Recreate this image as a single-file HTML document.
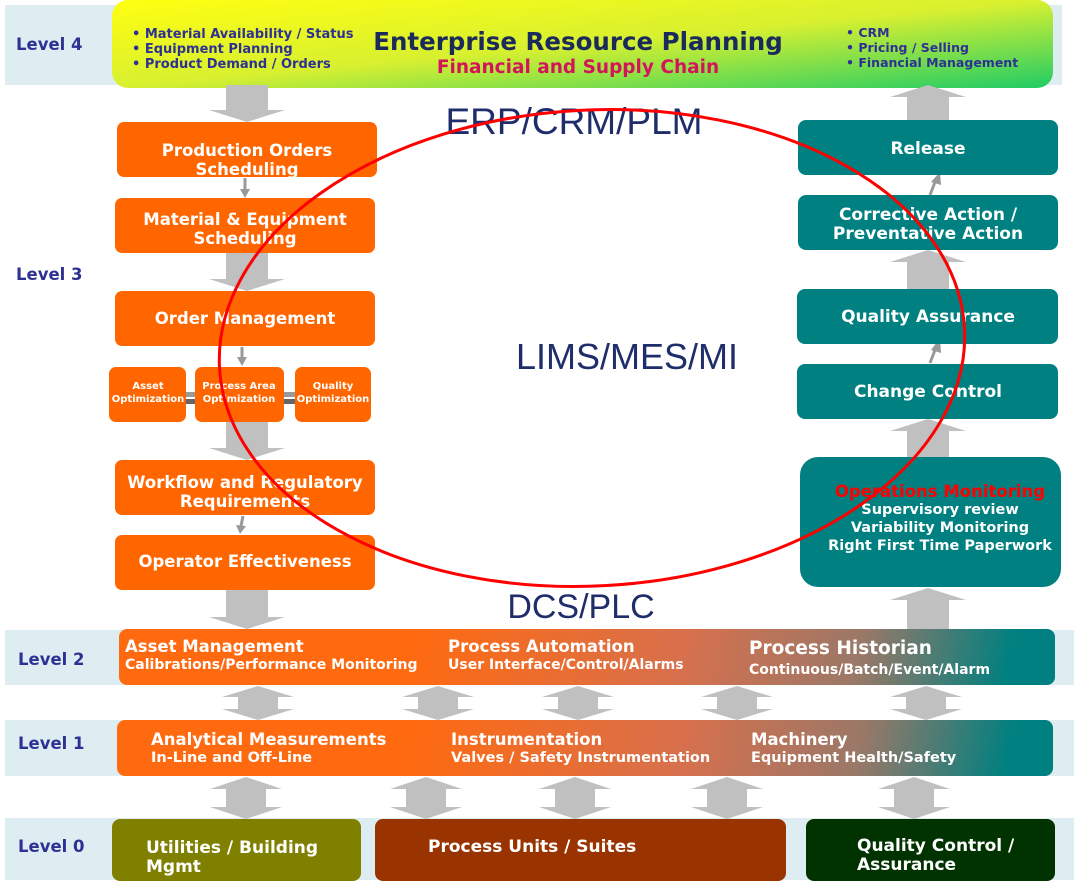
<!DOCTYPE html>
<html><head><meta charset="utf-8"><style>
html,body{margin:0;padding:0;background:#fff;width:1074px;height:887px;overflow:hidden}
svg{display:block}
.v{font-family:"DejaVu Sans","Liberation Sans",sans-serif;font-weight:bold}
</style></head><body>
<svg width="1074" height="887" viewBox="0 0 1074 887" xmlns="http://www.w3.org/2000/svg">
<defs>
<linearGradient id="erp" x1="0" y1="0" x2="1" y2="1">
<stop offset="0" stop-color="#ffff10"/><stop offset="0.5" stop-color="#d8f030"/><stop offset="1" stop-color="#20cc66"/>
</linearGradient>
<linearGradient id="bar2" gradientUnits="userSpaceOnUse" x1="420" y1="600" x2="1000" y2="710">
<stop offset="0" stop-color="#ff6a10"/><stop offset="0.45" stop-color="#d8704c"/><stop offset="0.75" stop-color="#9a7868"/><stop offset="1" stop-color="#008080"/>
</linearGradient>
<linearGradient id="bar1" gradientUnits="userSpaceOnUse" x1="420" y1="691" x2="1000" y2="801">
<stop offset="0" stop-color="#ff6a10"/><stop offset="0.45" stop-color="#d8704c"/><stop offset="0.75" stop-color="#9a7868"/><stop offset="1" stop-color="#008080"/>
</linearGradient>
</defs>
<rect x="5" y="5" width="1057" height="80" fill="#deedf2"/>
<rect x="5" y="630" width="1069" height="55" fill="#deedf2"/>
<rect x="5" y="720" width="1069" height="56" fill="#deedf2"/>
<rect x="5" y="818" width="1069" height="62" fill="#deedf2"/>
<g class="v" fill="#2e3192" font-size="16.5">
<text x="16" y="50">Level 4</text>
<text x="16" y="280">Level 3</text>
<text x="18" y="665">Level 2</text>
<text x="18" y="749">Level 1</text>
<text x="18" y="852">Level 0</text>
</g>
<rect x="112" y="0" width="941" height="88" rx="16" fill="url(#erp)"/>
<g class="v" fill="#2e3192" font-size="13">
<text x="132" y="38">• Material Availability / Status</text>
<text x="132" y="53">• Equipment Planning</text>
<text x="132" y="68">• Product Demand / Orders</text>
</g>
<g class="v" fill="#2e3192" font-size="12.5">
<text x="846" y="37">• CRM</text>
<text x="846" y="52">• Pricing / Selling</text>
<text x="846" y="67">• Financial Management</text>
</g>
<text class="v" x="578" y="50" text-anchor="middle" font-size="24.5" fill="#1a2a5a">Enterprise Resource Planning</text>
<text class="v" x="578" y="73" text-anchor="middle" font-size="18.5" fill="#d4145a">Financial and Supply Chain</text>

<g fill="#c0c0c0">
<polygon points="226,85 268,85 268,110 285,110 247,122 209,110 226,110"/>
<polygon points="226,253 268,253 268,279 285,279 247,291 209,279 226,279"/>
<polygon points="226,422 268,422 268,448 285,448 247,460 209,448 226,448"/>
<polygon points="226,590 268,590 268,617 285,617 247,629 209,617 226,617"/>
<polygon points="907,120 949,120 949,97 966,97 928,85 890,97 907,97"/>
<polygon points="907,289 949,289 949,262 966,262 928,250 890,262 907,262"/>
<polygon points="907,457 949,457 949,431 966,431 928,419 890,431 907,431"/>
<polygon points="907,629 949,629 949,600 966,600 928,588 890,600 907,600"/>
</g>
<g fill="#c0c0c0">
<polygon points="258,686 294,697 278,697 278,709 294,709 258,720 222,709 238,709 238,697 222,697"/>
<polygon points="438,686 474,697 458,697 458,709 474,709 438,720 402,709 418,709 418,697 402,697"/>
<polygon points="578,686 614,697 598,697 598,709 614,709 578,720 542,709 558,709 558,697 542,697"/>
<polygon points="737,686 773,697 757,697 757,709 773,709 737,720 701,709 717,709 717,697 701,697"/>
<polygon points="926,686 962,697 946,697 946,709 962,709 926,720 890,709 906,709 906,697 890,697"/>
<polygon points="246,777 282,789 266,789 266,807 282,807 246,819 210,807 226,807 226,789 210,789"/>
<polygon points="426,777 462,789 446,789 446,807 462,807 426,819 390,807 406,807 406,789 390,789"/>
<polygon points="575,777 611,789 595,789 595,807 611,807 575,819 539,807 555,807 555,789 539,789"/>
<polygon points="727,777 763,789 747,789 747,807 763,807 727,819 691,807 707,807 707,789 691,789"/>
<polygon points="914,777 950,789 934,789 934,807 950,807 914,819 878,807 894,807 894,789 878,789"/>
</g>
<rect x="186" y="392" width="10" height="5" fill="#999"/><rect x="186" y="399" width="10" height="5" fill="#666"/>
<rect x="284" y="392" width="12" height="5" fill="#999"/><rect x="284" y="399" width="12" height="5" fill="#666"/>

<g fill="#ff6600">
<rect x="117" y="122" width="260" height="55" rx="7"/>
<rect x="115" y="198" width="260" height="55" rx="7"/>
<rect x="115" y="291" width="260" height="55" rx="7"/>
<rect x="109" y="367" width="77" height="55" rx="7"/>
<rect x="195" y="367" width="89" height="55" rx="7"/>
<rect x="295" y="367" width="76" height="55" rx="7"/>
<rect x="115" y="460" width="260" height="55" rx="7"/>
<rect x="115" y="535" width="260" height="55" rx="7"/>
</g>
<g stroke="#999" stroke-width="3" fill="#999">
<line x1="245" y1="178" x2="245" y2="190"/><polygon points="240,189 250,189 245,198" stroke="none"/>
<line x1="242" y1="347" x2="242" y2="358"/><polygon points="237,357 247,357 242,366" stroke="none"/>
<line x1="243" y1="516" x2="241" y2="526"/><polygon points="236,525 246,526 240,534" stroke="none"/>
<line x1="930" y1="195" x2="935" y2="182"/><polygon points="931,182 941,185 940,172" stroke="none"/>
<line x1="930" y1="363" x2="935" y2="350"/><polygon points="931,350 941,353 940,338" stroke="none"/>
</g>
<g class="v" fill="#fff" font-size="16.5" text-anchor="middle">
<text x="247" y="156">Production Orders</text><text x="247" y="175">Scheduling</text>
<text x="245" y="225">Material &amp; Equipment</text><text x="245" y="244">Scheduling</text>
<text x="245" y="324">Order Management</text>
<text x="245" y="488">Workflow and Regulatory</text><text x="245" y="507">Requirements</text>
<text x="245" y="567">Operator Effectiveness</text>
</g>
<g class="v" fill="#fff" font-size="10" text-anchor="middle">
<text x="148" y="389">Asset</text><text x="148" y="402">Optimization</text>
<text x="239" y="389">Process Area</text><text x="239" y="402">Optimization</text>
<text x="333" y="389">Quality</text><text x="333" y="402">Optimization</text>
</g>
<g fill="#008080">
<rect x="798" y="120" width="260" height="55" rx="8"/>
<rect x="798" y="195" width="260" height="55" rx="8"/>
<rect x="797" y="289" width="261" height="55" rx="8"/>
<rect x="797" y="364" width="261" height="55" rx="8"/>
<rect x="800" y="457" width="261" height="130" rx="18"/>
</g>
<g class="v" fill="#fff" font-size="17" text-anchor="middle">
<text x="928" y="154">Release</text>
<text x="928" y="220">Corrective Action /</text><text x="928" y="239">Preventative Action</text>
<text x="928" y="322">Quality Assurance</text>
<text x="928" y="397">Change Control</text>
<text x="940" y="514" font-size="14.5">Supervisory review</text>
<text x="940" y="532" font-size="14.5">Variability  Monitoring</text>
<text x="940" y="550" font-size="14.5">Right First Time Paperwork</text>
</g>
<text class="v" x="940" y="497" text-anchor="middle" font-size="16.5" fill="#ff0000">Operations Monitoring</text>

<g font-family="Liberation Sans, sans-serif" fill="#1f2d6b" text-anchor="middle">
<text x="574" y="134" font-size="37">ERP/CRM/PLM</text>
<text x="627" y="369" font-size="36">LIMS/MES/MI</text>
<text x="581" y="618" font-size="34">DCS/PLC</text>
</g>

<rect x="119" y="629" width="936" height="56" rx="8" fill="url(#bar2)"/>
<rect x="117" y="720" width="936" height="56" rx="8" fill="url(#bar1)"/>
<g class="v" fill="#fff">
<text x="125" y="652" font-size="16.5">Asset Management</text>
<text x="125" y="669" font-size="14">Calibrations/Performance Monitoring</text>
<text x="448" y="652" font-size="16.5">Process Automation</text>
<text x="448" y="669" font-size="14">User Interface/Control/Alarms</text>
<text x="749" y="654" font-size="18.5">Process Historian</text>
<text x="749" y="674" font-size="14">Continuous/Batch/Event/Alarm</text>
<text x="151" y="745" font-size="16.5">Analytical Measurements</text>
<text x="151" y="762" font-size="14.5">In-Line and Off-Line</text>
<text x="451" y="745" font-size="16.5">Instrumentation</text>
<text x="451" y="762" font-size="14.5">Valves / Safety Instrumentation</text>
<text x="751" y="745" font-size="16.5">Machinery</text>
<text x="751" y="762" font-size="14.5">Equipment Health/Safety</text>
</g>
<rect x="112" y="819" width="249" height="62" rx="8" fill="#808000"/>
<rect x="375" y="819" width="411" height="62" rx="8" fill="#993300"/>
<rect x="806" y="819" width="249" height="62" rx="8" fill="#003300"/>
<g class="v" fill="#fff" font-size="17">
<text x="146" y="853">Utilities / Building</text><text x="146" y="872">Mgmt</text>
<text x="428" y="852">Process Units / Suites</text>
<text x="857" y="851">Quality Control /</text><text x="857" y="870">Assurance</text>
</g>

<ellipse cx="592" cy="348" rx="373" ry="238" fill="none" stroke="#ff0000" stroke-width="3" transform="rotate(-3 592 348)"/>
</svg>
</body></html>
